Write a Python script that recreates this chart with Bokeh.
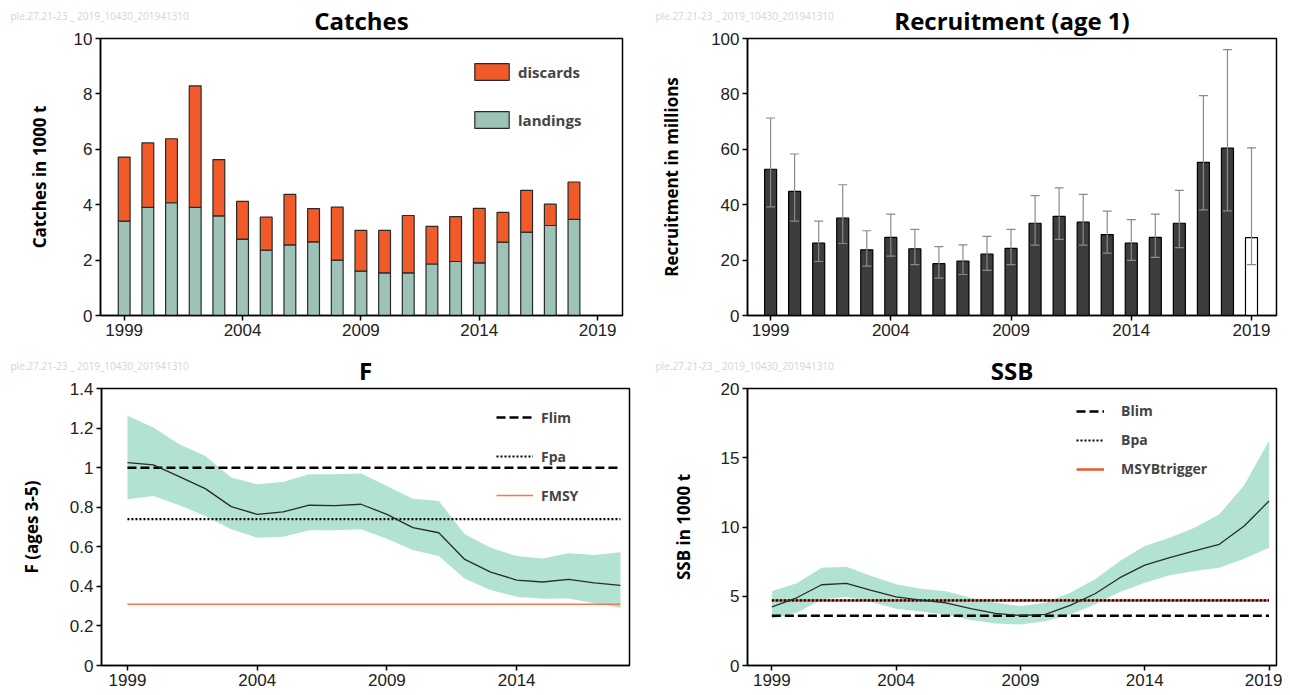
from bokeh.plotting import figure
from bokeh.layouts import column, row
from bokeh.models import (Range1d, FixedTicker, Legend, LegendItem, Whisker, TeeHead,
                          ColumnDataSource, Title, CustomJSTickFormatter)
from bokeh.embed import file_html
from bokeh.resources import INLINE

# ---------------- data ----------------
years = list(range(1999, 2019))
landings = [3.41, 3.90, 4.07, 3.90, 3.60, 2.76, 2.36, 2.55, 2.66, 2.00,
            1.60, 1.54, 1.54, 1.86, 1.95, 1.90, 2.65, 3.01, 3.25, 3.47]
discards = [2.31, 2.33, 2.31, 4.39, 2.03, 1.36, 1.19, 1.82, 1.20, 1.91,
            1.47, 1.53, 2.07, 1.36, 1.62, 1.97, 1.07, 1.51, 0.77, 1.35]

rec_years = list(range(1999, 2020))
recruit = [52.8, 44.8, 26.1, 35.2, 23.7, 28.2, 24.1, 18.7, 19.6, 22.2, 24.2,
           33.3, 35.8, 33.7, 29.2, 26.1, 28.2, 33.3, 55.3, 60.4, 28.1]
rec_low = [39.2, 34.1, 19.5, 26.0, 17.8, 21.4, 18.4, 13.5, 14.8, 16.3, 18.4,
           25.4, 27.5, 25.4, 22.5, 19.9, 21.0, 24.5, 38.1, 37.8, 18.4]
rec_high = [71.3, 58.3, 34.1, 47.2, 30.6, 36.6, 31.1, 24.9, 25.5, 28.6, 31.1,
            43.3, 46.1, 43.7, 37.7, 34.6, 36.6, 45.2, 79.4, 96.0, 60.5]

f_years = list(range(1999, 2019))
f_val = [1.025, 1.014, 0.955, 0.894, 0.803, 0.764, 0.776, 0.810, 0.808, 0.815,
         0.764, 0.697, 0.671, 0.536, 0.472, 0.432, 0.422, 0.435, 0.418, 0.405]
f_high = [1.262, 1.203, 1.118, 1.059, 0.950, 0.916, 0.928, 0.966, 0.966, 0.971,
          0.907, 0.843, 0.832, 0.663, 0.595, 0.553, 0.541, 0.567, 0.558, 0.573]
f_low = [0.840, 0.857, 0.810, 0.756, 0.688, 0.646, 0.651, 0.683, 0.683, 0.688,
         0.641, 0.584, 0.553, 0.439, 0.381, 0.347, 0.337, 0.339, 0.314, 0.292]
Flim, Fpa, FMSY = 1.0, 0.74, 0.31

ssb_years = list(range(1999, 2020))
ssb = [4.24, 4.89, 5.83, 5.93, 5.42, 4.96, 4.72, 4.53, 4.10, 3.76, 3.61,
       3.69, 4.34, 5.18, 6.34, 7.25, 7.78, 8.27, 8.75, 10.07, 11.88]
ssb_high = [5.37, 5.93, 7.06, 7.13, 6.46, 5.86, 5.54, 5.37, 4.89, 4.53, 4.29,
            4.53, 5.25, 6.22, 7.54, 8.63, 9.23, 9.95, 10.92, 13.01, 16.22]
ssb_low = [3.37, 3.81, 4.77, 4.96, 4.58, 4.10, 3.90, 3.66, 3.28, 3.04, 2.96,
           3.20, 3.69, 4.41, 5.30, 5.98, 6.51, 6.82, 7.06, 7.71, 8.51]
Blim, Bpa, MSYBtrigger = 3.6, 4.7, 4.7

year_ticks = [1999, 2004, 2009, 2014, 2019]
watermark = "ple.27.21-23 _ 2019_10430_201941310"

TITLE_FONT = "Open Sans"
TICK_FONT = "Liberation Sans"
BAND = "#b2e2d2"
ORANGE = "#f15a29"


def make_fig(title, xr, yr, fw, fh, bl, br, bt, bb):
    p = figure(width=bl + fw + br, height=bt + fh + bb, frame_width=fw, frame_height=fh,
               x_range=Range1d(*xr), y_range=Range1d(*yr), output_backend="svg",
               toolbar_location=None, min_border_left=bl, min_border_right=br,
               min_border_top=bt, min_border_bottom=bb)
    # faint identifier text, top-left of each panel
    p.title = Title(text=watermark, align="left", offset=-(bl - 10), vertical_align="bottom",
                    standoff=-44, text_font=TITLE_FONT, text_font_size="10px",
                    text_font_style="normal", text_color="#d4d4d4")
    p.add_layout(Title(text=title, align="center", standoff=3, text_font=TITLE_FONT,
                       text_font_size="24px", text_font_style="bold", text_color="black"),
                 "above")
    p.outline_line_color = "black"
    p.outline_line_width = 1.5
    p.outline_line_alpha = 1.0
    p.xgrid.visible = False
    p.ygrid.visible = False
    for ax in (p.xaxis[0], p.yaxis[0]):
        ax.axis_line_width = 1.5
        ax.axis_line_color = "black"
        ax.major_tick_line_width = 1.5
        ax.major_tick_out = 5
        ax.major_tick_in = 0
        ax.minor_tick_line_color = None
        ax.major_label_text_font = TICK_FONT
        ax.major_label_text_font_size = "17px"
        ax.major_label_text_color = "#222222"
        ax.major_label_standoff = 3
    p.xaxis.ticker = FixedTicker(ticks=year_ticks)
    p.yaxis.axis_label_text_font = TITLE_FONT
    p.yaxis.axis_label_text_font_style = "bold"
    p.yaxis.axis_label_text_font_size = "17px"
    p.yaxis.axis_label_text_color = "black"
    return p


# ---------------- Catches ----------------
p1 = make_fig("Catches", (1998.0, 2020.05), (0, 10), 522, 277, 100, 23, 38, 28)
src1 = ColumnDataSource(dict(year=years, landings=landings, discards=discards))
rs = p1.vbar_stack(["landings", "discards"], x="year", width=0.5, source=src1,
                   fill_color=["#9dc3b8", ORANGE], line_color="#2a2a2a", line_width=1.2)
p1.yaxis.ticker = FixedTicker(ticks=[0, 2, 4, 6, 8, 10])
p1.yaxis.axis_label = "Catches in 1000 t"
p1.yaxis.axis_label_standoff = 20
leg1 = Legend(items=[LegendItem(label="discards", renderers=[rs[1]]),
                     LegendItem(label="landings", renderers=[rs[0]])],
              location=(370, 185), glyph_width=43, glyph_height=21, label_height=21,
              spacing=27, padding=0, margin=0, label_standoff=5,
              border_line_alpha=0, background_fill_alpha=0,
              label_text_font=TITLE_FONT, label_text_font_style="bold",
              label_text_font_size="15px")
p1.add_layout(leg1)

# ---------------- Recruitment ----------------
p2 = make_fig("Recruitment (age 1)", (1998.04, 2020.04), (0, 100), 529, 277, 102, 6, 38, 28)
fills = ["#3c3c3c"] * (len(rec_years) - 1) + ["white"]
src2 = ColumnDataSource(dict(year=rec_years, r=recruit, lo=rec_low, hi=rec_high, fill=fills))
p2.vbar(x="year", top="r", width=0.5, source=src2, fill_color="fill", line_color="black",
        line_width=1.2)
w = Whisker(base="year", lower="lo", upper="hi", source=src2, line_color="#8a8a8a",
            line_width=1.2, level="overlay",
            upper_head=TeeHead(size=9, line_color="#8a8a8a", line_width=1.2),
            lower_head=TeeHead(size=9, line_color="#8a8a8a", line_width=1.2))
p2.add_layout(w)
p2.yaxis.ticker = FixedTicker(ticks=[0, 20, 40, 60, 80, 100])
p2.yaxis.axis_label = "Recruitment in millions"
p2.yaxis.axis_label_standoff = 25

# ---------------- F ----------------
p3 = make_fig("F", (1998.0, 2018.35), (0, 1.4), 528, 277, 101, 16, 45, 28)
p3.varea(x=f_years, y1=f_low, y2=f_high, fill_color=BAND)
r_flim = p3.line(f_years, [Flim] * len(f_years), line_color="black", line_width=2.5,
                 line_dash="9 4")
r_fpa = p3.line(f_years, [Fpa] * len(f_years), line_color="black", line_width=2.2,
                line_dash="2 2")
r_fmsy = p3.line(f_years, [FMSY] * len(f_years), line_color="#f4784f", line_width=1.5)
p3.line(f_years, f_val, line_color="#2b2b2b", line_width=1.3)
p3.yaxis.ticker = FixedTicker(ticks=[0, 0.2, 0.4, 0.6, 0.8, 1, 1.2, 1.4])
p3.yaxis.formatter = CustomJSTickFormatter(code="return String(Math.round(tick*10)/10);")
p3.yaxis.axis_label = "F (ages 3-5)"
p3.yaxis.axis_label_standoff = 24
leg3 = Legend(items=[LegendItem(label="Flim", renderers=[r_flim]),
                     LegendItem(label="Fpa", renderers=[r_fpa]),
                     LegendItem(label="FMSY", renderers=[r_fmsy])],
              location=(395, 160), glyph_width=37, glyph_height=20, label_height=20,
              spacing=19, padding=0, margin=0, label_standoff=8,
              border_line_alpha=0, background_fill_alpha=0,
              label_text_font=TITLE_FONT, label_text_font_style="bold",
              label_text_font_size="14px")
p3.add_layout(leg3)

# ---------------- SSB ----------------
p4 = make_fig("SSB", (1998.02, 2019.3), (0, 20), 529, 277, 102, 6, 45, 28)
p4.varea(x=ssb_years, y1=ssb_low, y2=ssb_high, fill_color=BAND)
r_msy = p4.line(ssb_years, [MSYBtrigger] * len(ssb_years), line_color="#e8572b",
                line_width=2.5)
r_blim = p4.line(ssb_years, [Blim] * len(ssb_years), line_color="black", line_width=2.5,
                 line_dash="9 4")
r_bpa = p4.line(ssb_years, [Bpa] * len(ssb_years), line_color="black", line_width=2.2,
                line_dash="2 2")
p4.line(ssb_years, ssb, line_color="#2b2b2b", line_width=1.3)
p4.yaxis.ticker = FixedTicker(ticks=[0, 5, 10, 15, 20])
p4.yaxis.axis_label = "SSB in 1000 t"
p4.yaxis.axis_label_standoff = 23
leg4 = Legend(items=[LegendItem(label="Blim", renderers=[r_blim]),
                     LegendItem(label="Bpa", renderers=[r_bpa]),
                     LegendItem(label="MSYBtrigger", renderers=[r_msy])],
              location=(329, 187), glyph_width=28, glyph_height=18, label_height=18,
              spacing=10, padding=0, margin=0, label_standoff=17,
              border_line_alpha=0, background_fill_alpha=0,
              label_text_font=TITLE_FONT, label_text_font_style="bold",
              label_text_font_size="14px")
p4.add_layout(leg4)

layout = column(row(p1, p2), row(p3, p4))
open("out.html", "w").write(file_html(layout, INLINE))
